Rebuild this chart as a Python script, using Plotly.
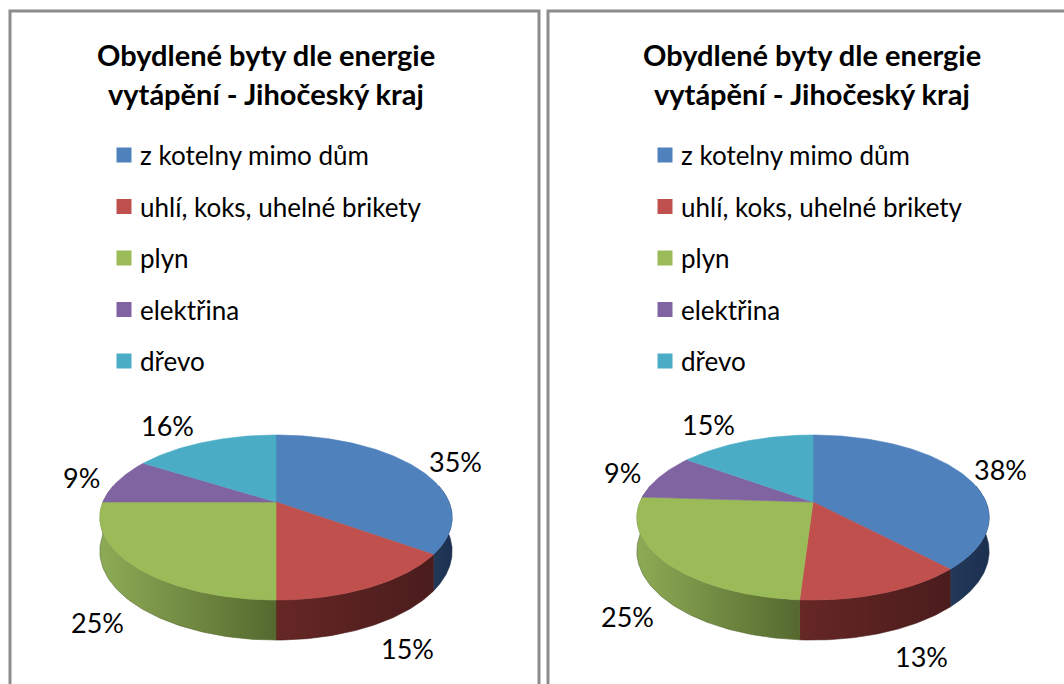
import numpy as np
import plotly.graph_objects as go

# ---------------- data ----------------
categories = ["z kotelny mimo dům", "uhlí, koks, uhelné brikety", "plyn", "elektřina", "dřevo"]
values_left = [35, 15, 25, 9, 16]
values_right = [38, 13, 25, 9, 15]
title_lines = ["Obydlené byty dle energie", "vytápění - Jihočeský kraj"]

# ---------------- styles ----------------
top_colors = ["#4f81bd", "#c0504d", "#9bbb59", "#8064a2", "#4bacc6"]
side_colors = [("#22395a", "#1c3050"), ("#662725", "#4a1c1c"), ("#8dab55", "#55692f"),
               ("#6b5188", "#4e3b66"), ("#3a8aa0", "#2b6a7c")]
FONT = "Lato"
W, H = 1064, 684

# perspective pie geometry (pixels)
K = 0.188      # perspective factor
A = 173.0      # horizontal radius
B = 79.6       # vertical radius
T0 = 32.5      # thickness

panels = [
    dict(values=values_left, x0=10, x1=539, title_cx=266, pie_cx=276, pie_cy=502, leg_x=124),
    dict(values=values_right, x0=548, x1=1080, title_cx=812, pie_cx=813, pie_cy=502, leg_x=665),
]


def proj(cx, cy, theta_deg, r=1.0, depth=0.0):
    t = np.radians(theta_deg)
    u = r * np.cos(t)
    v = -r * np.sin(t)
    w = 1 - K * v
    return cx + A * u / w, cy + B * v / w + depth * T0 / w


fig = go.Figure()
annotations = []
shapes = []

for p in panels:
    vals = p["values"]
    total = float(sum(vals))
    cx, cy = p["pie_cx"], p["pie_cy"]
    # slice angles, clockwise from 12 o'clock
    bounds = []
    a = 90.0
    for v in vals:
        a1 = a - 360.0 * v / total
        bounds.append((a, a1))
        a = a1

    # side walls (visible near side)
    vis_lo, vis_hi = -192.0, 12.0
    for i, (a0, a1) in enumerate(bounds):
        lo, hi = max(a1, vis_lo), min(a0, vis_hi)
        if hi <= lo:
            continue
        th = np.linspace(lo, hi, 80)
        xt, yt = proj(cx, cy, th)
        xb, yb = proj(cx, cy, th[::-1], depth=1.0)
        xs = np.concatenate([xt, xb, xt[:1]])
        ys = np.concatenate([yt, yb, yt[:1]])
        c1, c2 = side_colors[i]
        fig.add_trace(go.Scatter(
            x=xs, y=ys, mode="lines", fill="toself",
            line=dict(width=0.6, color=c2),
            fillgradient=dict(type="horizontal", colorscale=[[0, c1], [1, c2]]),
            hoverinfo="skip", showlegend=False))

    # top faces
    for i, (a0, a1) in enumerate(bounds):
        n = max(int(abs(a0 - a1)), 4)
        th = np.linspace(a0, a1, n)
        xt, yt = proj(cx, cy, th)
        xs = np.concatenate([[cx], xt, [cx]])
        ys = np.concatenate([[cy], yt, [cy]])
        fig.add_trace(go.Scatter(
            x=xs, y=ys, mode="lines", fill="toself",
            line=dict(width=0.6, color=top_colors[i]), fillcolor=top_colors[i],
            hoverinfo="skip", showlegend=False))

    # percentage labels (outside end)
    fs = 27
    for i, (a0, a1) in enumerate(bounds):
        mid = (a0 + a1) / 2.0
        t = np.radians(mid)
        s, c = np.sin(t), np.cos(t)
        near = s < 0
        ex, ey = proj(cx, cy, mid)
        w = 1 + K * s
        lx = ex + np.sign(c) * 37
        ly = ey - s * 22 + 3 + (T0 / w if near else 0.0)
        annotations.append(dict(x=lx, y=ly, xref="x", yref="y", text=f"{vals[i]}%", showarrow=False,
                                xanchor="center", yanchor="middle",
                                font=dict(family=FONT, size=fs, color="#000000")))

    # title
    for j, line in enumerate(title_lines):
        annotations.append(dict(x=p["title_cx"], y=54 + 39 * j, xref="x", yref="y", text=f"<b>{line}</b>",
                                showarrow=False, xanchor="center", yanchor="middle",
                                font=dict(family=FONT, size=29, color="#000000")))

    # legend
    rows = [155 + 51.5 * k for k in range(len(categories))]
    fig.add_trace(go.Scatter(
        x=[p["leg_x"]] * len(categories), y=rows, mode="markers",
        marker=dict(symbol="square", size=15, color=top_colors, line=dict(width=0)),
        hoverinfo="skip", showlegend=False))
    for k, cat in enumerate(categories):
        annotations.append(dict(x=p["leg_x"] + 14, y=rows[k], xref="x", yref="y", text=cat,
                                showarrow=False, xanchor="left", yanchor="middle",
                                font=dict(family=FONT, size=26, color="#000000")))

    # panel border
    shapes.append(dict(type="rect", xref="x", yref="y", x0=p["x0"], x1=p["x1"], y0=11, y1=720,
                       line=dict(color="#8c8c8c", width=3), fillcolor="rgba(0,0,0,0)", layer="below"))

fig.update_layout(
    width=W, height=H,
    margin=dict(l=0, r=0, t=0, b=0),
    paper_bgcolor="white", plot_bgcolor="white",
    xaxis=dict(range=[0, W], visible=False, fixedrange=True),
    yaxis=dict(range=[H, 0], visible=False, fixedrange=True),
    annotations=annotations, shapes=shapes,
    showlegend=False,
)

fig.write_html("out.html", config={"displayModeBar": False},
               post_script="document.body.style.margin='0px';document.body.style.overflow='hidden';")
